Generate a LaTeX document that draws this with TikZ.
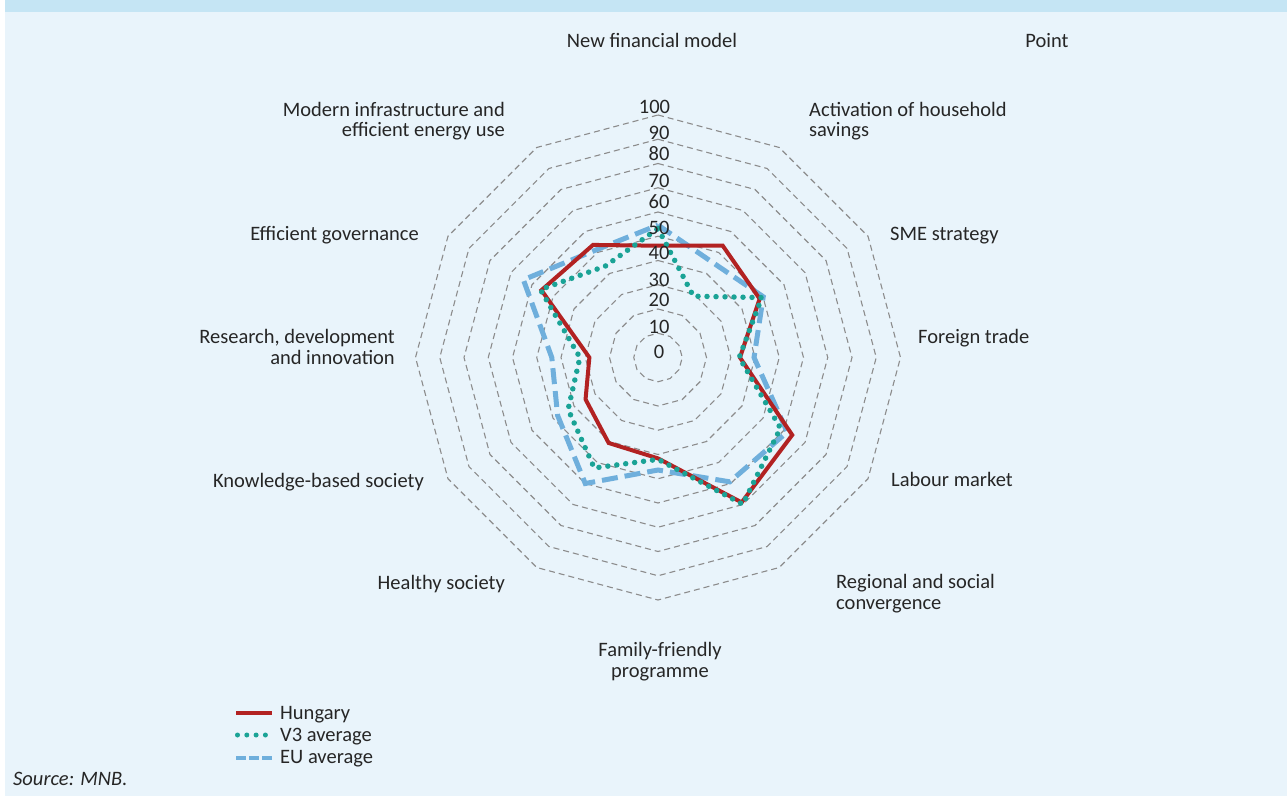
\documentclass[tikz,border=0pt]{standalone}
\usepackage{fontspec}
\setmainfont{Carlito}
\usetikzlibrary{calc}
\definecolor{bgc}{RGB}{233,244,251}
\definecolor{bandc}{RGB}{197,229,244}
\definecolor{huc}{RGB}{178,34,34}
\definecolor{v3c}{RGB}{26,163,150}
\definecolor{euc}{RGB}{111,175,220}
\definecolor{txtc}{RGB}{38,38,38}
\definecolor{gridc}{RGB}{140,140,140}
\begin{document}
\begin{tikzpicture}[x=1pt,y=1pt,
  lbl/.style={font=\fontsize{20.5}{20.5}\selectfont, text=txtc, inner sep=0pt},
  gridline/.style={draw=gridc, line width=1.1pt, dash pattern=on 6pt off 4pt},
  hu/.style={draw=huc, line width=4pt, line join=miter},
  v3/.style={draw=v3c, line width=5.5pt, line cap=round, dash pattern=on 0pt off 9pt},
  eu/.style={draw=euc, line width=5pt, dash pattern=on 16pt off 7pt},
]
\useasboundingbox (0,0) rectangle (1287,796);
\fill[white] (0,0) rectangle (1287,796);
\fill[bgc] (5,0) rectangle (1287,796);
\fill[bandc] (5,784) rectangle (1287,796);

\begin{scope}[shift={(658,438.5)}]
  \foreach \k in {1,...,10}{
    \draw[gridline] (90:{24.25*\k}) \foreach \i in {1,...,11}{ -- (90-30*\i:{24.25*\k}) } -- cycle;
  }
  % EU average
  \draw[eu] (90:{54.6*2.425}) \foreach \v [count=\i] in {45.2,50.1,39.6,61.5,59.2,46.4,60.0,47.8,43.8,64.1,51.2}{ -- (90-30*\i:{\v*2.425}) } -- cycle;
  % Hungary
  \draw[hu] (90:{46.1*2.425}) \foreach \v [count=\i] in {53.3,48.4,33.8,63.9,69.0,41.6,40.7,34.5,28.3,55.5,53.6}{ -- (90-30*\i:{\v*2.425}) } -- cycle;
  % V3 average
  \draw[v3] (90:{53.2*2.425}) \foreach \v [count=\i] in {29.2,49.4,33.5,58.3,69.9,42.0,52.6,42.8,32.2,56.0,43.5}{ -- (90-30*\i:{\v*2.425}) } -- cycle;
\end{scope}

% axis tick labels
\node[lbl, anchor=base] (t100) at (654.5,682.5) {100};
\node[lbl, anchor=base] (t90) at (659,656.5) {90};
\node[lbl, anchor=base] (t80) at (659,635.5) {80};
\node[lbl, anchor=base] (t70) at (659,608.5) {70};
\node[lbl, anchor=base] (t60) at (659,587.5) {60};
\node[lbl, anchor=base] (t50) at (659,561.5) {50};
\node[lbl, anchor=base] (t40) at (659,536.5) {40};
\node[lbl, anchor=base] (t30) at (659,509.5) {30};
\node[lbl, anchor=base] (t20) at (659,489.5) {20};
\node[lbl, anchor=base] (t10) at (659,462.5) {10};
\node[lbl, anchor=base] (t0) at (659,437.5) {0};

% category labels
\node[lbl, anchor=base] (c1) at (652,748.5) {New financial model};
\node[lbl, anchor=base] (pt) at (1047,748.5) {Point};
\node[lbl, anchor=base west, align=left] (c2) at (809,659) {Activation of household\\savings};
\node[lbl, anchor=base west] (c3) at (890,555.3) {SME strategy};
\node[lbl, anchor=base west] (c4) at (918,452) {Foreign trade};
\node[lbl, anchor=base west] (c5) at (891,309.5) {Labour market};
\node[lbl, anchor=base west, align=left] (c6) at (836,187) {Regional and social\\convergence};
\node[lbl, anchor=base, align=center] (c7) at (660,119) {Family-friendly\\programme};
\node[lbl, anchor=base east] (c8) at (505,207) {Healthy society};
\node[lbl, anchor=base east] (c9) at (424,308.7) {Knowledge-based society};
\node[lbl, anchor=base east, align=right] (c10) at (395,431.5) {Research, development\\and innovation};
\node[lbl, anchor=base east] (c11) at (419,555.3) {Efficient governance};
\node[lbl, anchor=base east, align=right] (c12) at (505,659) {Modern infrastructure and\\efficient energy use};

% legend
\coordinate (l1a) at (236,83.3); \coordinate (l1b) at (272,83.3);
\coordinate (l2a) at (237.5,61); \coordinate (l2b) at (266,61);
\coordinate (l3a) at (236,38.5); \coordinate (l3b) at (272,38.5);
\draw[hu, line width=3.7pt] (l1a) -- (l1b);
\draw[v3, line width=5pt, dash pattern=on 0pt off 9.3pt] (l2a) -- (l2b);
\draw[eu, line width=4pt, dash pattern=on 10pt off 3pt] (l3a) -- (l3b);
\node[lbl, anchor=base west] (lg1) at (280,76.5) {Hungary};
\node[lbl, anchor=base west] (lg2) at (280,54.5) {V3 average};
\node[lbl, anchor=base west] (lg3) at (280,32.5) {EU average};

\node[lbl, anchor=base west, font=\fontsize{20.5}{20.5}\selectfont\itshape] (src) at (13,10.5) {Source: MNB.};
\end{tikzpicture}
\end{document}
